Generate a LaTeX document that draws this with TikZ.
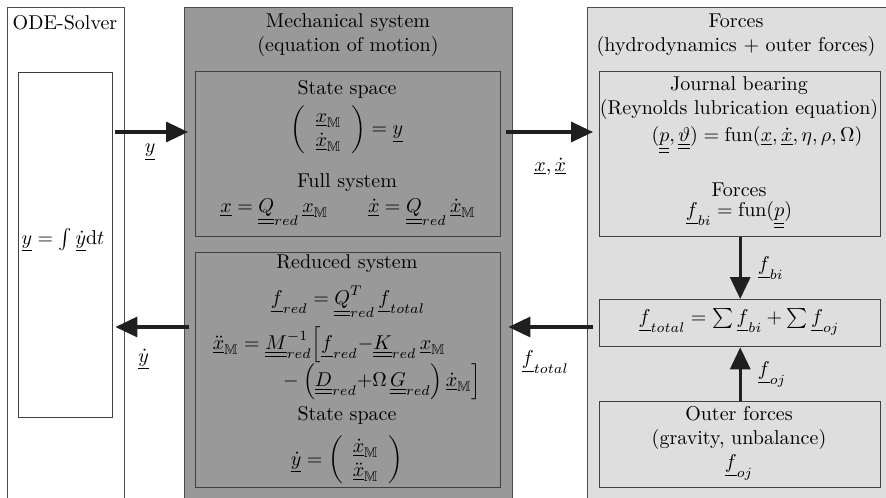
\documentclass[tikz,border=0pt]{standalone}
\usepackage{amsmath,amssymb}
\usetikzlibrary{arrows.meta, positioning}

\newcommand{\uvec}[1]{\underline{#1}}
\newcommand{\umat}[1]{\underline{\underline{#1}}}
\newcommand{\xM}{\uvec{x}_{\mathbb{M}}}
\newcommand{\dxM}{\uvec{\dot{x}}_{\mathbb{M}}}
\newcommand{\ddxM}{\uvec{\ddot{x}}_{\mathbb{M}}}

\tikzset{
  panel/.style={
    draw=black!70, line width=0.6pt, inner sep=0pt, anchor=north west
  },
  block/.style={
    draw=black!75, line width=0.7pt, inner sep=0pt, anchor=north west
  },
  boxtext/.style={align=center, inner sep=0pt},
  flowarrow/.style={
    -{Triangle[length=11pt,width=10pt]}, line width=1.7pt, color=black!88
  },
  flowlabel/.style={inner sep=0pt, text=black},
}

\begin{document}
\begin{tikzpicture}[x=0.5pt, y=-0.5pt]
  \useasboundingbox (0,0) rectangle (886,497);
  \clip (0,0) rectangle (886,497);

  % --- outer panels ---
  \node[panel, fill=white, minimum width=58.5pt, minimum height=270pt] (solver) at (7,7) {};
  \node[panel, fill=black!40, minimum width=164pt, minimum height=270pt] (mech) at (184,7) {};
  \node[panel, fill=black!13, minimum width=160pt, minimum height=270pt] (forces) at (587,7) {};

  % --- inner blocks ---
  \node[block, fill=white, minimum width=47pt, minimum height=172.5pt] (solverin) at (18,72) {};
  \node[block, fill=black!40, minimum width=152.5pt, minimum height=82.5pt] (state) at (195,71) {};
  \node[block, fill=black!40, minimum width=152.5pt, minimum height=117.5pt] (reduced) at (195,252) {};
  \node[block, fill=black!13, minimum width=140.5pt, minimum height=82.5pt] (journal) at (599,71) {};
  \node[block, fill=black!13, minimum width=140.5pt, minimum height=23.5pt] (total) at (599,299) {};
  \node[block, fill=black!13, minimum width=140.5pt, minimum height=43pt] (outer) at (599,401) {};

  % --- ODE solver ---
  \node[boxtext] (solvertitle) at (65,23) {ODE-Solver};
  \node[boxtext] (solvereq) at (63,240) {$\uvec{y} = \int \uvec{\dot{y}}\mathrm{d}t$};

  % --- mechanical system ---
  \node[boxtext] (mechtitle) at (348,35) {Mechanical system\\(equation of motion)};
  \node[boxtext] (statetitle) at (347,89) {State space};
  \node[boxtext] (stateeq) at (347,130)
    {$\left(\begin{array}{c}\xM\\ \dxM\end{array}\right) = \uvec{y}$};
  \node[boxtext] (fulltitle) at (347,183) {Full system};
  \node[boxtext] (fulleq) at (348,212)
    {$\uvec{x} = \umat{Q}_{red}\,\xM \qquad \uvec{\dot{x}} = \umat{Q}_{red}\,\dxM$};

  \node[boxtext] (redtitle) at (347,264) {Reduced system};
  \node[boxtext] (redforce) at (348,302)
    {$\uvec{f}_{red} = \umat{Q}^T_{red}\,\uvec{f}_{total}$};
  \node[boxtext] (redeom) at (347,363)
    {$\begin{aligned}
      \ddxM &= \umat{M}^{-1}_{red}\Big[\uvec{f}_{red} {-} \umat{K}_{red}\,\xM\\[-3.5pt]
      &\qquad -\Big(\umat{D}_{red}{+}\Omega\,\umat{G}_{red}\Big)\,\dxM\Big]
    \end{aligned}$};
  \node[boxtext] (statetitle2) at (347,415) {State space};
  \node[boxtext] (statedot) at (347,460)
    {$\uvec{\dot{y}} = \left(\begin{array}{c}\dxM\\ \ddxM\end{array}\right)$};

  % --- forces ---
  \node[boxtext] (forcetitle) at (736,35) {Forces\\(hydrodynamics + outer forces)};
  \node[boxtext] (journaltitle) at (739,98.5) {Journal bearing\\(Reynolds lubrication equation)};
  \node[boxtext] (journaleq) at (757,140)
    {$(\umat{p},\umat{\vartheta}) = \mathrm{fun}(\uvec{x},\uvec{\dot{x}},\eta,\rho,\Omega)$};
  \node[boxtext] (bearingtitle) at (739,190) {Forces};
  \node[boxtext] (bearingeq) at (739,215) {$\uvec{f}_{bi} = \mathrm{fun}(\umat{p})$};
  \node[boxtext] (totaleq) at (739,322)
    {$\uvec{f}_{total} = \sum \uvec{f}_{bi} + \sum \uvec{f}_{oj}$};
  \node[boxtext] (outertext) at (739,443)
    {Outer forces\\(gravity, unbalance)\\$\uvec{f}_{oj}$};

  % --- connectors ---
  \coordinate (fwdrow) at (0,132);
  \coordinate (backrow) at (0,327);

  \draw[flowarrow, shorten <=1pt, shorten >=3.5pt] (solverin.east |- fwdrow) --
    node[flowlabel, below=5pt, pos=0.45] {$\uvec{y}$} (state.west |- fwdrow);
  \draw[flowarrow, shorten <=2.5pt, shorten >=3pt] (state.east |- fwdrow) --
    node[flowlabel, below=12pt] {$\uvec{x},\uvec{\dot{x}}$} (journal.west |- fwdrow);
  \draw[flowarrow] (journal) -- node[flowlabel, right=8pt] {$\uvec{f}_{bi}$} (total);
  \draw[flowarrow] (outer) -- node[flowlabel, right=8pt] {$\uvec{f}_{oj}$} (total);
  \draw[flowarrow, shorten <=3pt, shorten >=3.5pt] (total.west |- backrow) --
    node[flowlabel, below=11pt, pos=0.55] {$\uvec{f}_{total}$} (reduced.east |- backrow);
  \draw[flowarrow, shorten <=3pt, shorten >=1pt] (reduced.west |- backrow) --
    node[flowlabel, below=10pt, pos=0.63] {$\uvec{\dot{y}}$} (solverin.east |- backrow);
\end{tikzpicture}
\end{document}
